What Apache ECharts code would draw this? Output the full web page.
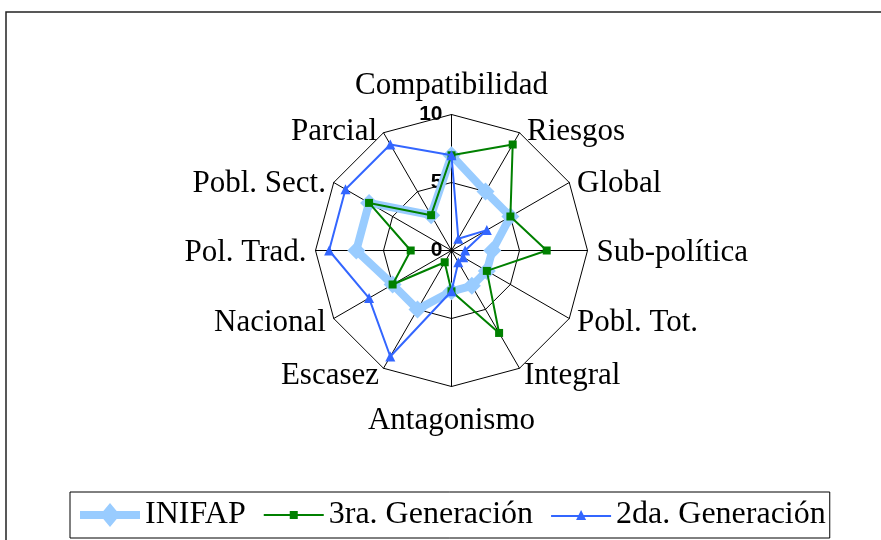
<!DOCTYPE html>
<html><head><meta charset="utf-8">
<script src="https://cdn.jsdelivr.net/npm/echarts@6/dist/echarts.min.js"></script>
<style>html,body{margin:0;padding:0;background:#fff}#c{width:881px;height:540px}</style>
</head><body><div id="c"></div>
<script>
const categories = ['Compatibilidad','Riesgos','Global','Sub-política','Pobl. Tot.','Integral','Antagonismo','Escasez','Nacional','Pol. Trad.','Pobl. Sect.','Parcial'];
const inifap  = [7,5,5,3,3,3,3,5,5,7,7,3];
const tercera = [7,9,5,7,3,7,3,1,5,3,7,3];
const segunda = [7,1,3,1,1,1,3,9,7,9,9,9];
const radialTicks = [0,5,10];
const seriesNames = ['INIFAP','3ra. Generación','2da. Generación'];
const seriesColors = ['#99CCFF','#008000','#3366FF'];

// per-category label nudges: gap from spoke end, extra top padding, side padding
const nameGaps   = [13, 9, 9, 9, 9, 9, 19, 9, 9, 9, 9, 9];
const namePadTop = [0, 14, 12, 4, 0, 0, 0, 0, 0, 4, 12, 14];
const namePadSide= [0, 3, 0, 0, 0, 0, 0, 0, 0, 0, 0, 2];

// ECharts lays radar indicators counter-clockwise; reorder so they run clockwise
const order = [0].concat(categories.map((_, i) => i).slice(1).reverse());
const reorder = arr => order.map(i => arr[i]);

const indicators = order.map((i, k) => {
  const o = { name: categories[i], min: radialTicks[0], max: radialTicks[radialTicks.length - 1],
              nameGap: nameGaps[i] };
  if (k === 0) o.axisLabel = { show: true };
  return o;
});

const nameFont = { color: '#000', fontFamily: 'Liberation Serif', fontSize: 31 };
const rich = {};
categories.forEach((c, i) => {
  const rightSide = i > 0 && i < 6;
  rich['c' + i] = Object.assign({}, nameFont, {
    padding: [namePadTop[i], rightSide ? 0 : namePadSide[i], 0, rightSide ? namePadSide[i] : 0]
  });
});

const legendIcons = [
  'path://M0,8 L60,8 L60,16 L0,16 Z M30,0 L40,12 L30,24 L20,12 Z',
  'path://M0,3 L60,3 L60,5 L0,5 Z M26,0 L34,0 L34,8 L26,8 Z',
  'path://M0,5 L60,5 L60,7 L0,7 Z M25,10 L30,0 L35,10 Z'
];

const chart = echarts.init(document.getElementById('c'), null, { renderer: 'canvas' });
chart.setOption({
  animation: false,
  backgroundColor: '#fff',
  graphic: [{ type: 'rect', shape: { x: 6, y: 12, width: 1000, height: 700 },
              style: { fill: 'none', stroke: '#222', lineWidth: 1.5 }, silent: true }],
  legend: {
    data: seriesNames.map((n, i) => ({ name: n, icon: legendIcons[i] })),
    left: 70, top: 492,
    padding: [7, 4, 7, 10],
    itemGap: 18,
    itemWidth: 60, itemHeight: 24,
    symbolKeepAspect: true,
    itemStyle: { borderWidth: 0 },
    borderColor: '#000', borderWidth: 1,
    textStyle: { fontFamily: 'Liberation Serif', fontSize: 32, color: '#000' }
  },
  radar: {
    center: [451.5, 250.5],
    radius: 136,
    startAngle: 90,
    splitNumber: 2,
    shape: 'polygon',
    indicator: indicators,
    axisName: Object.assign({}, nameFont, {
      formatter: name => '{c' + categories.indexOf(name) + '|' + name + '}',
      rich: rich
    }),
    axisLine: { lineStyle: { color: '#000', width: 1 } },
    splitLine: { lineStyle: { color: '#000', width: 1 } },
    splitArea: { show: false },
    axisTick: { show: false },
    axisLabel: { show: false, color: '#000', fontFamily: 'Liberation Sans', fontWeight: 'bold', fontSize: 21, margin: 9, showMinLabel: true, showMaxLabel: true }
  },
  series: [
    { type: 'radar', name: seriesNames[0], symbol: 'diamond', symbolSize: 18,
      lineStyle: { color: seriesColors[0], width: 8 }, itemStyle: { color: seriesColors[0] },
      data: [{ value: reorder(inifap), name: seriesNames[0] }], z: 2 },
    { type: 'radar', name: seriesNames[1], symbol: 'rect', symbolSize: 8,
      lineStyle: { color: seriesColors[1], width: 2 }, itemStyle: { color: seriesColors[1] },
      data: [{ value: reorder(tercera), name: seriesNames[1] }], z: 3 },
    { type: 'radar', name: seriesNames[2], symbol: 'triangle', symbolSize: 10,
      lineStyle: { color: seriesColors[2], width: 2 }, itemStyle: { color: seriesColors[2] },
      data: [{ value: reorder(segunda), name: seriesNames[2] }], z: 4 }
  ]
});
</script></body></html>
